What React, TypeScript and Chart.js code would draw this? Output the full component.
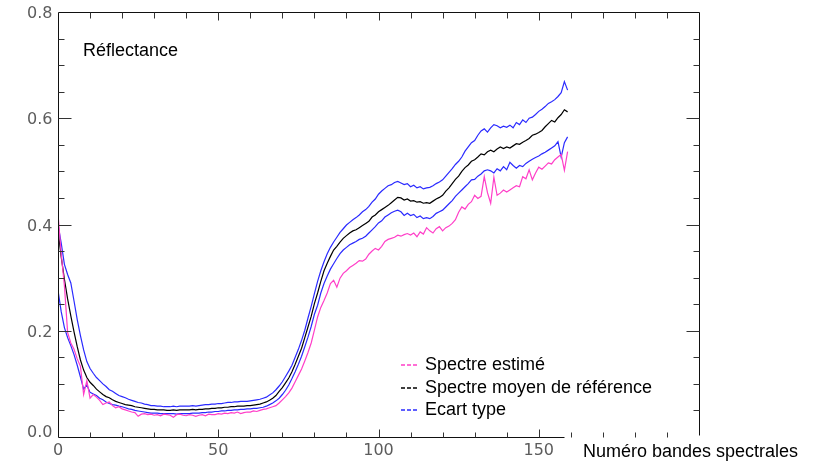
import React, { useEffect, useRef } from 'react';
import { Chart, registerables } from 'chart.js';

Chart.register(...registerables);

// Band numbers 0..159
const bandNumbers: number[] = Array.from({ length: 160 }, (_, i) => i);

const spectreEstime: number[] = [
  0.420, 0.345, 0.285, 0.197, 0.177, 0.165, 0.147, 0.133, 0.080, 0.106,
  0.073, 0.080, 0.075, 0.069, 0.061, 0.064, 0.066, 0.059, 0.055, 0.057,
  0.053, 0.051, 0.049, 0.047, 0.046, 0.039, 0.043, 0.044, 0.042, 0.043,
  0.041, 0.042, 0.040, 0.043, 0.042, 0.041, 0.037, 0.042, 0.043, 0.041,
  0.040, 0.042, 0.041, 0.039, 0.041, 0.042, 0.040, 0.043, 0.042, 0.042,
  0.044, 0.043, 0.045, 0.044, 0.046, 0.045, 0.047, 0.044, 0.046, 0.047,
  0.047, 0.049, 0.048, 0.050, 0.052, 0.053, 0.055, 0.057, 0.059, 0.064,
  0.070, 0.076, 0.083, 0.092, 0.104, 0.116, 0.128, 0.143, 0.159, 0.177,
  0.201, 0.226, 0.244, 0.257, 0.271, 0.289, 0.295, 0.282, 0.299, 0.308,
  0.313, 0.319, 0.323, 0.327, 0.332, 0.331, 0.335, 0.344, 0.350, 0.355,
  0.352, 0.359, 0.368, 0.372, 0.374, 0.376, 0.380, 0.378, 0.381, 0.383,
  0.380, 0.384, 0.377, 0.386, 0.382, 0.394, 0.388, 0.384, 0.392, 0.396,
  0.388, 0.394, 0.397, 0.402, 0.409, 0.423, 0.433, 0.429, 0.438, 0.443,
  0.455, 0.449, 0.453, 0.490, 0.460, 0.440, 0.489, 0.455, 0.459, 0.465,
  0.461, 0.465, 0.469, 0.473, 0.471, 0.490, 0.486, 0.503, 0.484, 0.497,
  0.508, 0.504, 0.510, 0.516, 0.514, 0.522, 0.527, 0.532, 0.502, 0.537,
];

const spectreMoyen: number[] = [
  0.389, 0.339, 0.297, 0.260, 0.228, 0.198, 0.170, 0.145, 0.126, 0.112,
  0.103, 0.097, 0.090, 0.085, 0.080, 0.076, 0.074, 0.070, 0.067, 0.065,
  0.063, 0.061, 0.060, 0.059, 0.057, 0.056, 0.055, 0.054, 0.053, 0.052,
  0.052, 0.051, 0.051, 0.051, 0.050, 0.050, 0.051, 0.050, 0.051, 0.051,
  0.051, 0.051, 0.052, 0.051, 0.052, 0.052, 0.053, 0.053, 0.054, 0.054,
  0.055, 0.055, 0.056, 0.056, 0.057, 0.057, 0.058, 0.058, 0.058, 0.059,
  0.059, 0.060, 0.061, 0.062, 0.064, 0.066, 0.069, 0.073, 0.078, 0.086,
  0.093, 0.102, 0.111, 0.123, 0.137, 0.152, 0.167, 0.187, 0.207, 0.227,
  0.251, 0.271, 0.293, 0.313, 0.327, 0.340, 0.352, 0.359, 0.367, 0.374,
  0.379, 0.384, 0.388, 0.390, 0.394, 0.398, 0.402, 0.406, 0.414, 0.418,
  0.424, 0.428, 0.432, 0.436, 0.441, 0.446, 0.451, 0.450, 0.446, 0.448,
  0.444, 0.445, 0.442, 0.443, 0.440, 0.441, 0.440, 0.444, 0.448, 0.451,
  0.455, 0.463, 0.469, 0.477, 0.485, 0.491, 0.500, 0.507, 0.512, 0.519,
  0.522, 0.527, 0.533, 0.531, 0.537, 0.540, 0.537, 0.542, 0.546, 0.543,
  0.546, 0.544, 0.548, 0.552, 0.551, 0.555, 0.558, 0.562, 0.568, 0.570,
  0.573, 0.577, 0.584, 0.590, 0.596, 0.593, 0.601, 0.607, 0.616, 0.612,
];

const ecartTypeHaut: number[] = [
  0.400, 0.365, 0.325, 0.306, 0.290, 0.256, 0.221, 0.191, 0.164, 0.142,
  0.129, 0.120, 0.112, 0.106, 0.100, 0.095, 0.089, 0.086, 0.082, 0.078,
  0.076, 0.074, 0.071, 0.069, 0.067, 0.065, 0.064, 0.062, 0.061, 0.059,
  0.059, 0.058, 0.058, 0.057, 0.057, 0.057, 0.058, 0.057, 0.058, 0.058,
  0.058, 0.058, 0.059, 0.058, 0.059, 0.060, 0.061, 0.061, 0.062, 0.062,
  0.063, 0.063, 0.064, 0.065, 0.065, 0.066, 0.066, 0.067, 0.067, 0.067,
  0.068, 0.069, 0.070, 0.071, 0.073, 0.075, 0.079, 0.083, 0.089, 0.096,
  0.104, 0.114, 0.124, 0.135, 0.150, 0.165, 0.182, 0.201, 0.224, 0.246,
  0.270, 0.293, 0.313, 0.330, 0.345, 0.357, 0.367, 0.376, 0.385, 0.392,
  0.399, 0.404, 0.409, 0.413, 0.418, 0.424, 0.428, 0.434, 0.442, 0.448,
  0.457, 0.463, 0.468, 0.473, 0.475, 0.479, 0.481, 0.478, 0.475, 0.477,
  0.471, 0.474, 0.469, 0.471, 0.467, 0.469, 0.470, 0.473, 0.477, 0.480,
  0.484, 0.491, 0.498, 0.505, 0.513, 0.519, 0.527, 0.538, 0.546, 0.554,
  0.558, 0.568, 0.576, 0.580, 0.574, 0.582, 0.588, 0.586, 0.582, 0.585,
  0.583, 0.587, 0.582, 0.592, 0.588, 0.597, 0.592, 0.600, 0.602, 0.607,
  0.613, 0.617, 0.622, 0.628, 0.631, 0.635, 0.641, 0.648, 0.669, 0.653,
];

const ecartTypeBas: number[] = [
  0.276, 0.236, 0.206, 0.187, 0.172, 0.155, 0.135, 0.113, 0.090, 0.098,
  0.084, 0.081, 0.078, 0.073, 0.070, 0.066, 0.063, 0.061, 0.060, 0.058,
  0.057, 0.055, 0.053, 0.052, 0.050, 0.049, 0.048, 0.047, 0.046, 0.045,
  0.045, 0.045, 0.044, 0.044, 0.044, 0.044, 0.044, 0.043, 0.044, 0.044,
  0.044, 0.044, 0.045, 0.045, 0.045, 0.046, 0.046, 0.047, 0.047, 0.048,
  0.048, 0.049, 0.049, 0.050, 0.050, 0.051, 0.051, 0.052, 0.052, 0.053,
  0.053, 0.054, 0.054, 0.055, 0.056, 0.058, 0.061, 0.064, 0.068, 0.073,
  0.080, 0.088, 0.098, 0.110, 0.123, 0.137, 0.152, 0.170, 0.188, 0.208,
  0.231, 0.248, 0.271, 0.289, 0.303, 0.316, 0.326, 0.336, 0.345, 0.352,
  0.357, 0.362, 0.365, 0.368, 0.372, 0.374, 0.378, 0.384, 0.390, 0.396,
  0.403, 0.407, 0.414, 0.418, 0.422, 0.425, 0.427, 0.424, 0.417, 0.421,
  0.417, 0.419, 0.413, 0.416, 0.411, 0.413, 0.411, 0.415, 0.421, 0.424,
  0.427, 0.433, 0.439, 0.445, 0.453, 0.459, 0.465, 0.471, 0.477, 0.484,
  0.485, 0.491, 0.495, 0.501, 0.503, 0.501, 0.497, 0.505, 0.501, 0.509,
  0.503, 0.517, 0.511, 0.506, 0.511, 0.509, 0.515, 0.519, 0.523, 0.526,
  0.529, 0.533, 0.536, 0.540, 0.544, 0.548, 0.556, 0.527, 0.554, 0.565,
];

const yTickValues: number[] = [0, 0.2, 0.4, 0.6, 0.8];
const yTickLabels: string[] = ['0.0', '0.2', '0.4', '0.6', '0.8'];
const xTickValues: number[] = [0, 50, 100, 150];
const xTickLabels: string[] = ['0', '50', '100', '150'];

const legendLabels: string[] = ['Spectre estimé', 'Spectre moyen de référence', 'Ecart type'];
const legendColors: string[] = ['#ff3fc8', '#000000', '#2a2aff'];

const yLabelText = 'Réflectance';
const xLabelText = 'Numéro bandes spectrales';

const X_MIN = 0, X_MAX = 200, Y_MIN = 0, Y_MAX = 0.8;

const toPoints = (arr: number[]) => arr.map((y, i) => ({ x: bandNumbers[i], y }));

const framePlugin = {
  id: 'framePlugin',
  afterDatasetsDraw(chart: any) {
    const ctx: CanvasRenderingContext2D = chart.ctx;
    const xs = chart.scales.x;
    const ys = chart.scales.y;
    const L = Math.round(xs.getPixelForValue(X_MIN)) + 0.5;
    const R = Math.round(xs.getPixelForValue(X_MAX)) + 0.5;
    const T = Math.round(ys.getPixelForValue(Y_MAX)) + 0.5;
    const B = Math.round(ys.getPixelForValue(Y_MIN)) + 0.5;
    ctx.save();
    ctx.strokeStyle = '#111';
    ctx.lineWidth = 1;
    ctx.beginPath();
    ctx.moveTo(L, T); ctx.lineTo(L, B);
    ctx.moveTo(L, T); ctx.lineTo(R, T);
    ctx.moveTo(R, T); ctx.lineTo(R, B - 2);
    ctx.moveTo(L, B); ctx.lineTo(Math.round(xs.getPixelForValue(157.8)) + 0.5, B);
    ctx.stroke();

    ctx.strokeStyle = '#333';
    ctx.beginPath();
    for (let k = 1; k < 16; k++) {
      const v = k * 0.05;
      const y = Math.round(ys.getPixelForValue(v)) + 0.5;
      const len = k % 4 === 0 ? 13 : 6;
      ctx.moveTo(L, y); ctx.lineTo(L + len, y);
      ctx.moveTo(R, y); ctx.lineTo(R - len, y);
    }
    for (let k = 1; k < 20; k++) {
      const x = Math.round(xs.getPixelForValue(k * 10)) + 0.5;
      const major = k % 5 === 0;
      ctx.moveTo(x, B); ctx.lineTo(x, B - (major ? 8 : 5));
      ctx.moveTo(x, T); ctx.lineTo(x, T + (major ? 8 : 6));
    }
    ctx.stroke();

    ctx.fillStyle = '#5c5c5c';
    ctx.font = '16px "DejaVu Sans"';
    ctx.textAlign = 'right';
    ctx.textBaseline = 'alphabetic';
    yTickValues.forEach((v, i) => {
      const y = ys.getPixelForValue(v);
      const base = i === 0 ? y : y + 6;
      ctx.fillText(yTickLabels[i], L - 6, base);
    });
    ctx.textAlign = 'center';
    xTickValues.forEach((v, i) => {
      const x = xs.getPixelForValue(v);
      ctx.fillText(xTickLabels[i], x, 455);
    });

    ctx.fillStyle = '#000';
    ctx.font = '18px "Liberation Sans", Arial, sans-serif';
    ctx.textAlign = 'left';
    ctx.fillText(yLabelText, 83, 56);
    ctx.fillText(xLabelText, 583, 457);

    const legendBase = [370, 392.5, 415];
    legendLabels.forEach((lab, i) => {
      const yb = legendBase[i];
      ctx.strokeStyle = legendColors[i];
      ctx.lineWidth = 1.5;
      ctx.setLineDash([4, 2]);
      ctx.beginPath();
      ctx.moveTo(401, Math.round(yb - 5));
      ctx.lineTo(419, Math.round(yb - 5));
      ctx.stroke();
      ctx.setLineDash([]);
      ctx.fillStyle = '#000';
      ctx.fillText(lab, 425, yb);
    });
    ctx.restore();
  },
};

export default function App() {
  const canvasRef = useRef<HTMLCanvasElement | null>(null);

  useEffect(() => {
    const canvas = canvasRef.current;
    if (!canvas) return;
    const mk = (label: string, arr: number[], color: string) => ({
      label,
      data: toPoints(arr),
      borderColor: color,
      borderWidth: 1.2,
      pointRadius: 0,
      tension: 0,
    });
    const chart = new Chart(canvas, {
      type: 'line',
      data: {
        datasets: [
          mk(legendLabels[0], spectreEstime, legendColors[0]),
          mk(legendLabels[1], spectreMoyen, legendColors[1]),
          mk(legendLabels[2], ecartTypeHaut, legendColors[2]),
          mk(legendLabels[2] + ' (bas)', ecartTypeBas, legendColors[2]),
        ],
      },
      options: {
        responsive: false,
        animation: false,
        layout: { padding: { left: 58, right: 123, top: 12, bottom: 32 } },
        plugins: { legend: { display: false }, tooltip: { enabled: false } },
        scales: {
          x: { type: 'linear', min: X_MIN, max: X_MAX, display: false },
          y: { type: 'linear', min: Y_MIN, max: Y_MAX, display: false },
        },
      },
      plugins: [framePlugin],
    });
    return () => chart.destroy();
  }, []);

  return (
    <div style={{ position: 'fixed', left: 0, top: 0, width: 822, height: 469, background: '#fff' }}>
      <canvas ref={canvasRef} width={822} height={469} style={{ width: 822, height: 469 }} />
    </div>
  );
}
